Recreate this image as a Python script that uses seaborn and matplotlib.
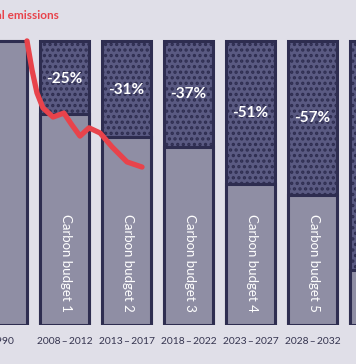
import numpy as np
import pandas as pd
import matplotlib
matplotlib.use("Agg")
import matplotlib.pyplot as plt
import seaborn as sns

# periods and levels, % of 1990 emissions
periods = ["1990", "2008\u2009–\u20092012", "2013\u2009–\u20092017", "2018\u2009–\u20092022",
           "2023\u2009–\u20092027", "2028\u2009–\u20092032", "2033\u2009–\u20092037"]
budget_names = ["", "Carbon budget 1", "Carbon budget 2", "Carbon budget 3",
                "Carbon budget 4", "Carbon budget 5", ""]
baseline = [100, 100, 100, 100, 100, 100, 100]
remaining = [100, 74.3, 66.2, 62.7, 49.6, 45.8, 19.4]
cut_labels = ["", "-25%", "-31%", "-37%", "-51%", "-57%", ""]
cut_label_y = [0, 86.6, 82.7, 81.3, 74.6, 72.9, 0]

# actual emissions line (x in bar-slot units)
actual_x = [0.395, 0.476, 0.556, 0.653, 0.815, 0.99, 1.12, 1.25, 1.395, 1.573, 1.766, 2.008, 2.25]
actual_y = [100, 89.8, 81.7, 76.4, 73.2, 74.6, 70.4, 66.5, 69.4, 67.6, 62.7, 57.4, 55.6]

bg = "#e0dfe8"
navy = "#2e2d50"
dark_fill = "#5a5a82"
light_fill = "#8f8ea4"
red = "#e8434b"

sns.set_theme(style="white")
plt.rcParams['font.family'] = ['Lato', 'DejaVu Sans']
plt.rcParams['hatch.linewidth'] = 1.6

df = pd.DataFrame({"period": periods, "base": baseline, "rem": remaining})

fig = plt.figure(figsize=(3.56, 3.64), dpi=100, facecolor=bg)
ax = fig.add_axes([0, 39 / 364, 1, 325 / 364])
ax.set_facecolor(bg)

sns.barplot(data=df, x="period", y="base", color=dark_fill, saturation=1,
            edgecolor=navy, linewidth=2.2, width=0.78, hatch="...", ax=ax)
sns.barplot(data=df, x="period", y="rem", color=light_fill, saturation=1,
            edgecolor=navy, linewidth=2.2, width=0.78, ax=ax)

sns.lineplot(x=actual_x, y=actual_y, sort=False, color=red, lw=3.8,
             solid_capstyle="round", solid_joinstyle="round", ax=ax)

for i, (lab, ly) in enumerate(zip(cut_labels, cut_label_y)):
    if lab:
        ax.text(i, ly, lab, color="white", ha="center", va="center",
                fontsize=11, fontweight="bold")
for i, name in enumerate(budget_names):
    if name:
        ax.text(i + 0.02, 22, name, color="white", ha="center", va="center",
                rotation=270, fontsize=9.5)

ax.text(0.91, 108.8, "Actual emissions", color=red, ha="right", va="center",
        fontsize=8.5, fontweight="bold")

ax.set_xlim(-0.04, 5.70)
ax.set_ylim(0, 114.4)
ax.set_xlabel("")
ax.set_ylabel("")
ax.set_yticks([])
ax.tick_params(axis="x", length=0, pad=9, labelsize=7.4, labelcolor="#35344f")
sns.despine(ax=ax, left=True, bottom=True)

fig.savefig("out.png", dpi=100, facecolor=bg)
